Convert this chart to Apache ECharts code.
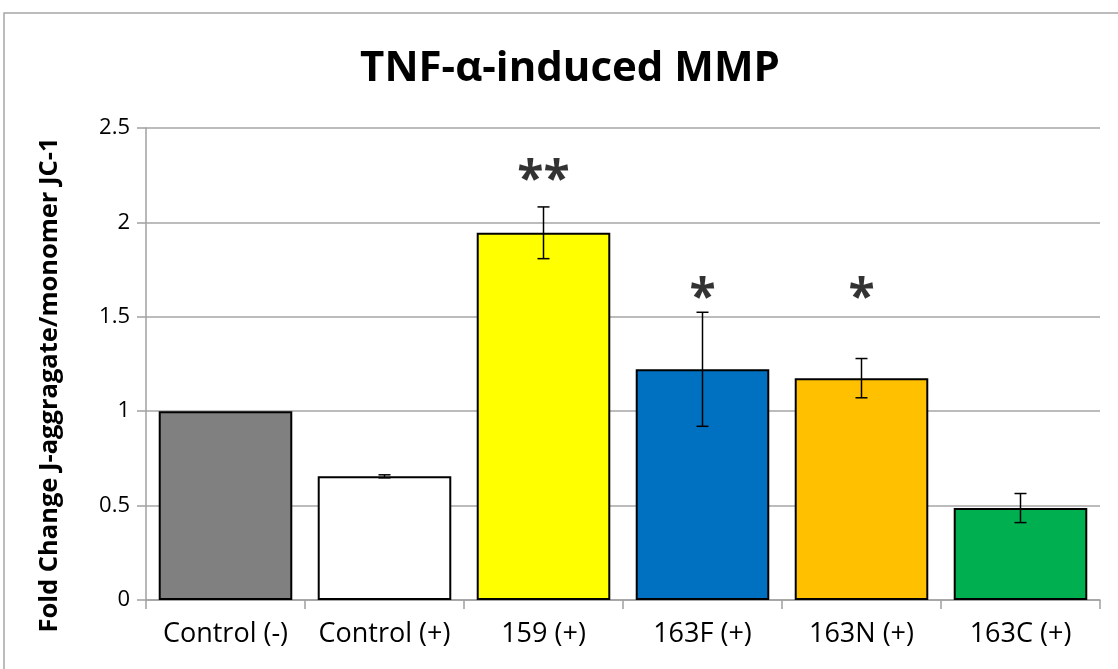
<!DOCTYPE html>
<html><head><meta charset="utf-8">
<script src="https://cdn.jsdelivr.net/npm/echarts@6/dist/echarts.min.js"></script>
<style>html,body{margin:0;padding:0;background:#fff}#c{width:1118px;height:669px}</style>
</head><body><div id="c"></div>
<script>
const categories = ['Control (-)', 'Control (+)', '159 (+)', '163F (+)', '163N (+)', '163C (+)'];
const values = [1.0, 0.655, 1.945, 1.222, 1.175, 0.487];
const errors = [0, 0.008, 0.137, 0.302, 0.104, 0.077];
const barColors = ['#808080', '#ffffff', '#ffff00', '#0070c0', '#ffc000', '#00b050'];
const starLabels = ['', '', '**', '*', '*', ''];
const starHeights = [null, null, 2.27, 1.645, 1.645, null];
const yTicks = [0, 0.5, 1, 1.5, 2, 2.5];

const chart = echarts.init(document.getElementById('c'));
const font = '"Open Sans", Lato, sans-serif';
chart.setOption({
  animation: false,
  title: {
    text: 'TNF-α-induced MMP', left: 565, top: 43, textAlign: 'center',
    textStyle: { fontFamily: font, fontSize: 42, fontWeight: 'bold', color: '#000' }
  },
  graphic: [{ type: 'rect', shape: { x: 4, y: 13, width: 1130, height: 680 }, style: { fill: 'none', stroke: '#a6a6a6', lineWidth: 1.5 }, silent: true }],
  grid: { left: 146, right: 18, top: 128, bottom: 69 },
  xAxis: {
    type: 'category', data: categories,
    axisLine: { lineStyle: { color: '#a0a0a0', width: 1.5 } },
    axisTick: { show: true, alignWithLabel: false, length: 9, lineStyle: { color: '#a0a0a0', width: 1.5 } },
    axisLabel: { interval: 0, hideOverlap: false, fontFamily: font, fontSize: 27, color: '#000', margin: 21 }
  },
  yAxis: {
    type: 'value', min: 0, max: 2.5, interval: 0.5,
    name: 'Fold Change J-aggragate/monomer JC-1', nameLocation: 'middle', nameGap: 83,
    nameTextStyle: { fontFamily: font, fontSize: 25.5, fontWeight: 'bold', color: '#000', padding: [0, 42, 0, 0] },
    axisLine: { show: true, lineStyle: { color: '#a0a0a0', width: 1.5 } },
    axisTick: { show: true, length: 9, lineStyle: { color: '#a0a0a0', width: 1.5 } },
    axisLabel: { fontFamily: font, fontSize: 22, color: '#000', margin: 16,
      formatter: v => yTicks.includes(v) ? String(v) : '' },
    splitLine: { lineStyle: { color: '#a6a6a6', width: 1.5 } }
  },
  series: [
    {
      type: 'bar', barCategoryGap: '16%',
      data: values.map((v, i) => ({ value: v, itemStyle: { color: barColors[i] } })),
      itemStyle: { borderColor: '#000', borderWidth: 2 }
    },
    {
      type: 'custom', z: 5,
      data: values.map((v, i) => [i, v - errors[i], v + errors[i]]),
      renderItem: (params, api) => {
        if (api.value(2) - api.value(1) <= 0) return null;
        const lo = api.coord([api.value(0), api.value(1)]);
        const hi = api.coord([api.value(0), api.value(2)]);
        const w = 6;
        const st = { stroke: '#000', lineWidth: 1.5 };
        return { type: 'group', children: [
          { type: 'line', shape: { x1: hi[0], y1: hi[1], x2: lo[0], y2: lo[1] }, style: st },
          { type: 'line', shape: { x1: hi[0] - w, y1: hi[1], x2: hi[0] + w, y2: hi[1] }, style: st },
          { type: 'line', shape: { x1: lo[0] - w, y1: lo[1], x2: lo[0] + w, y2: lo[1] }, style: st }
        ]};
      }
    },
    {
      type: 'scatter', symbolSize: 0, z: 6,
      data: starHeights.map((h, i) => h == null ? null : { value: [i, h], label: { formatter: starLabels[i] } }).filter(d => d),
      label: { show: true, position: 'inside', offset: [0, 10], fontFamily: font, fontSize: 48, fontWeight: 'bold', color: '#000', textBorderWidth: 0 }
    }
  ]
});
</script></body></html>
